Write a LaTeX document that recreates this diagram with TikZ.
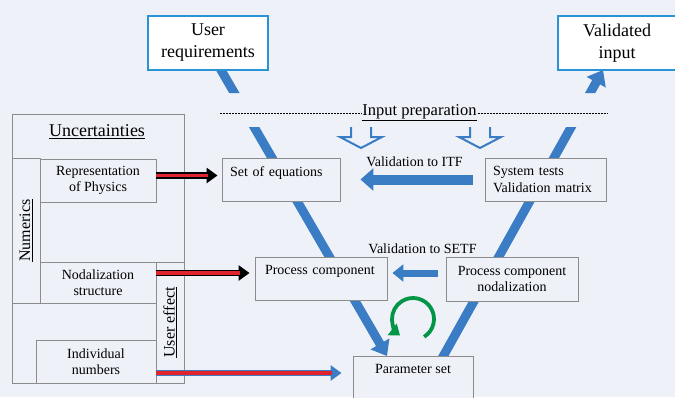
\documentclass[tikz,border=0pt]{standalone}
\usepackage{fontspec}
\setmainfont{Liberation Serif}
\usetikzlibrary{arrows.meta,positioning}
\definecolor{bgfill}{RGB}{238,241,248}
\definecolor{vblue}{RGB}{59,125,196}
\definecolor{lblue}{RGB}{42,147,213}
\definecolor{boxgray}{RGB}{140,140,140}
\definecolor{loopgreen}{RGB}{0,150,70}
\definecolor{arrowred}{RGB}{225,35,45}
\tikzset{
	box/.style={draw=boxgray, fill=bgfill, line width=0.9pt, inner sep=0pt,
			font=\fontsize{14}{16.5}\selectfont, align=center},
	topbox/.style={draw=lblue, fill=white, line width=1.3pt, align=center,
			font=\fontsize{18}{22}\selectfont, minimum height=54pt},
	band/.style={draw=vblue, line width=9pt, -{Triangle[length=14pt,width=21pt]}},
	valarrow/.style={draw=vblue, line width=10pt, -{Triangle[length=13pt,width=22pt]}},
	vallabel/.style={font=\fontsize{14}{16}\selectfont, inner sep=0pt},
	redarrow/.style={draw=black, line width=6.5pt, shorten >=#1,
			-{Triangle[length=11pt,width=15pt]},
			postaction={draw=arrowred, line width=3.5pt, -, shorten >=#1+10pt}},
	redarrow/.default=4pt,
	bluered/.style={redarrow=#1, draw=vblue},
	dotline/.style={line width=0.9pt, dash pattern=on 2pt off 1pt},
	inarrow/.style={draw=vblue, line width=2pt},
	cycle arrow/.style={draw=loopgreen, line width=3.8pt, -{Triangle[length=10pt,width=14pt]}}
}
\begin{document}
\begin{tikzpicture}[x=1pt,y=-1pt]
    \useasboundingbox (0,0) rectangle (675,397);
    \fill[bgfill] (0,0) rectangle (675,397);
    \coordinate (lv) at (215.2,60);
    \coordinate (lp) at (387,356);
    \coordinate (rp) at (440,362);
    \coordinate (rv) at (603,70);
    \begin{scope}
        \clip (0,0) rectangle (675,93) (0,127) rectangle (675,397);
        \draw[band] (lv) -- (lp);
        \draw[band] (rp) -- (rv);
    \end{scope}
    \node[topbox, minimum width=120pt] (ureq) at (208,43) {User\\requirements};
    \node[topbox, minimum width=118pt] (vinp) at (617,43) {Validated\\input};
    \node[font=\fontsize{16.5}{19}\selectfont, inner sep=1pt] (prep) at (419.5,113) {\underline{Input preparation}};
    \draw[dotline] (220,113) -- (prep.west);
    \draw[dotline] (prep.east) -- (607,113);
    \foreach \cx in {361,480}
        \draw[inarrow] (\cx-10,127) -- ++(0,10) -- ++(-11,0) -- (\cx,148) -- (\cx+21,137) -- ++(-11,0) -- ++(0,-10);
    \node[box, minimum width=118pt, minimum height=43pt, text width=102pt, align=left] (eq) at (281,179.5) {Set of equations\\\mbox{}};
    \node[box, minimum width=121pt, minimum height=43pt, text width=105pt, align=left] (sys) at (545.5,179.5) {System tests\\Validation matrix};
    \node[box, minimum width=132pt, minimum height=43pt, text width=112pt, align=left] (pc) at (321,278.5) {Process component\\\mbox{}};
    \node[box, minimum width=132pt, minimum height=44pt] (pcn) at (512,279) {Process component\\nodalization};
    \node[box, minimum width=120pt, minimum height=43pt] (par) at (413,377.5) {Parameter set\\\mbox{}};
    \draw[valarrow, shorten <=12pt, shorten >=20pt] (sys.west) -- node[vallabel, above=8pt, xshift=2pt]{Validation to ITF} (eq.east);
    \draw[valarrow, line width=7pt, -{Triangle[length=11pt,width=17pt]}, shorten <=8pt, shorten >=5pt]
        ([yshift=6pt]pcn.west) -- node[vallabel, above=15.5pt, xshift=6pt]{Validation to SETF} ([yshift=6pt]pcn.west -| pc.east);
    \coordinate (loopc) at (413,319);
    \draw[cycle arrow] ([shift={(-58:21pt)}]loopc) arc[start angle=-58, end angle=232, radius=21pt];
    \draw[draw=boxgray, line width=0.9pt] (12,114) rectangle (184,383);
    \node[font=\fontsize{18}{22}\selectfont, inner sep=0pt] (unc) at (97,132) {\underline{Uncertainties}};
    \node[box, rotate=90, minimum width=145pt, minimum height=28pt, font=\fontsize{16}{19}\selectfont] (num) at (26,230.5) {\underline{Numerics}};
    \node[box, minimum width=116pt, minimum height=43pt] (rep) at (98,180.5) {Representation\\of Physics};
    \node[box, minimum width=116pt, minimum height=41pt] (nod) at (98,282.5) {Nodalization\\structure};
    \node[box, rotate=90, minimum width=121pt, minimum height=28pt, font=\fontsize{16}{19}\selectfont] (ueff) at (170,322.5) {\underline{User effect}};
    \node[box, minimum width=120pt, minimum height=43pt] (ind) at (96,361.5) {Individual\\numbers};
    \draw[redarrow] ([yshift=5pt]rep.east) -- ([yshift=5pt]rep.east -| eq.west);
    \draw[redarrow=5pt] ([yshift=9.5pt]nod.east) -- ([yshift=9.5pt]nod.east -| pc.west);
    \draw[bluered=11pt] ([yshift=-11.5pt]ind.east) -- ([yshift=-11.5pt]ind.east -| par.west);
\end{tikzpicture}
\end{document}
